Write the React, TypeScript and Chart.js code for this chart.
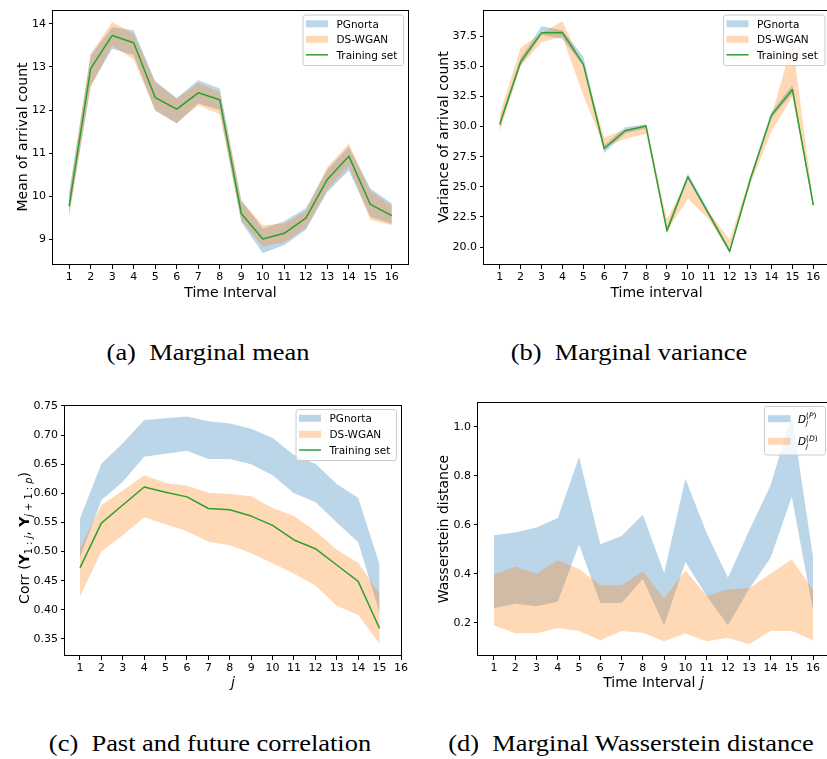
import React, { useEffect, useRef } from 'react';
import { Chart, registerables } from 'chart.js';

Chart.register(...registerables);

const FONT = "'DejaVu Sans'";
const PG_FILL = 'rgba(31,119,180,0.3)';
const DS_FILL = 'rgba(255,127,14,0.3)';
const TRAIN_COLOR = '#2ca02c';

// ---------- shared ticks ----------
const intervals = [1, 2, 3, 4, 5, 6, 7, 8, 9, 10, 11, 12, 13, 14, 15, 16];
const xTickLabels = ['1', '2', '3', '4', '5', '6', '7', '8', '9', '10', '11', '12', '13', '14', '15', '16'];

// ---------- (a) marginal mean ----------
const meanTraining = [9.77, 12.96, 13.73, 13.56, 12.29, 12.02, 12.40, 12.24, 9.60, 9.01, 9.14, 9.49, 10.39, 10.93, 9.81, 9.55];
const meanPgUpper = [10.10, 13.27, 13.92, 13.85, 12.67, 12.28, 12.69, 12.50, 9.91, 9.25, 9.42, 9.72, 10.62, 11.15, 10.18, 9.83];
const meanPgLower = [9.55, 12.57, 13.42, 13.27, 11.99, 11.69, 12.15, 12.00, 9.40, 8.68, 8.87, 9.22, 10.10, 10.60, 9.52, 9.36];
const meanDsUpper = [10.05, 13.30, 14.04, 13.77, 12.65, 12.26, 12.63, 12.42, 9.90, 9.33, 9.37, 9.66, 10.68, 11.22, 10.12, 9.78];
const meanDsLower = [9.58, 12.52, 13.50, 13.17, 11.99, 11.70, 12.11, 11.90, 9.43, 8.83, 8.93, 9.25, 10.15, 10.70, 9.45, 9.33];
const meanYTicks = ['9', '10', '11', '12', '13', '14'];

// ---------- (b) marginal variance ----------
const varTraining = [30.17, 35.37, 37.78, 37.80, 35.18, 28.18, 29.65, 30.04, 21.35, 25.83, 22.75, 19.64, 25.70, 30.95, 33.08, 23.48];
const varPgUpper = [30.50, 35.70, 38.33, 38.00, 35.80, 28.45, 29.95, 30.20, 21.65, 26.10, 23.00, 19.85, 25.95, 31.25, 33.45, 23.65];
const varPgLower = [29.95, 35.05, 37.60, 37.30, 35.00, 27.80, 29.45, 29.85, 21.10, 25.60, 22.55, 19.50, 25.45, 30.70, 32.75, 23.30];
const varDsUpper = [31.00, 36.55, 37.75, 38.74, 35.00, 29.10, 29.75, 30.10, 22.30, 25.60, 22.90, 20.60, 25.90, 30.90, 37.00, 23.75];
const varDsLower = [29.60, 35.00, 37.00, 37.45, 32.60, 28.30, 29.00, 29.40, 21.30, 24.00, 22.30, 19.60, 25.25, 29.60, 32.50, 23.30];
const varYTicks = ['20.0', '22.5', '25.0', '27.5', '30.0', '32.5', '35.0', '37.5'];

// ---------- (c) past / future correlation ----------
const lagJ = [1, 2, 3, 4, 5, 6, 7, 8, 9, 10, 11, 12, 13, 14, 15];
const corrTraining = [0.472, 0.549, 0.580, 0.611, 0.602, 0.594, 0.574, 0.572, 0.561, 0.545, 0.520, 0.505, 0.477, 0.449, 0.368];
const corrPgUpper = [0.557, 0.651, 0.686, 0.726, 0.729, 0.732, 0.724, 0.720, 0.711, 0.695, 0.666, 0.651, 0.616, 0.592, 0.478];
const corrPgLower = [0.490, 0.588, 0.620, 0.663, 0.668, 0.673, 0.659, 0.659, 0.650, 0.631, 0.600, 0.585, 0.550, 0.516, 0.395];
const corrDsUpper = [0.505, 0.580, 0.605, 0.631, 0.618, 0.613, 0.601, 0.599, 0.595, 0.575, 0.561, 0.535, 0.503, 0.481, 0.427];
const corrDsLower = [0.423, 0.500, 0.528, 0.559, 0.547, 0.535, 0.517, 0.511, 0.497, 0.480, 0.462, 0.442, 0.407, 0.391, 0.342];
const corrYTicks = ['0.35', '0.40', '0.45', '0.50', '0.55', '0.60', '0.65', '0.70', '0.75'];

// ---------- (d) marginal Wasserstein distance ----------
const wdPgUpper = [0.558, 0.569, 0.590, 0.629, 0.878, 0.521, 0.555, 0.642, 0.404, 0.789, 0.567, 0.385, 0.578, 0.761, 1.050, 0.469];
const wdPgLower = [0.260, 0.279, 0.268, 0.287, 0.520, 0.282, 0.282, 0.380, 0.190, 0.449, 0.310, 0.190, 0.340, 0.465, 0.715, 0.250];
const wdDsUpper = [0.397, 0.431, 0.401, 0.456, 0.420, 0.354, 0.354, 0.411, 0.300, 0.414, 0.310, 0.338, 0.342, 0.401, 0.460, 0.335];
const wdDsLower = [0.190, 0.158, 0.158, 0.180, 0.167, 0.130, 0.167, 0.160, 0.125, 0.157, 0.125, 0.140, 0.113, 0.167, 0.167, 0.130];
const wdYTicks = ['0.2', '0.4', '0.6', '0.8', '1.0'];

// ---------- rich text helpers ----------
type Seg = { t: string; size?: number; italic?: boolean; bold?: boolean; dy?: number; hold?: boolean };

function segFont(s: Seg) {
  return `${s.italic ? 'italic ' : ''}${s.bold ? 'bold ' : ''}${s.size ?? 14}px ${FONT}`;
}
function richWidth(ctx: CanvasRenderingContext2D, segs: Seg[]) {
  let w = 0;
  let held = 0;
  for (const s of segs) {
    ctx.font = segFont(s);
    const m = ctx.measureText(s.t).width;
    if (s.hold) held = m;
    else {
      w += Math.max(m, held);
      held = 0;
    }
  }
  return w;
}
function drawRich(ctx: CanvasRenderingContext2D, segs: Seg[], x: number, y: number, align: 'left' | 'center') {
  const w = richWidth(ctx, segs);
  let cx = align === 'center' ? x - w / 2 : x;
  let held = 0;
  ctx.textAlign = 'left';
  ctx.textBaseline = 'alphabetic';
  for (const s of segs) {
    ctx.font = segFont(s);
    const m = ctx.measureText(s.t).width;
    ctx.fillText(s.t, cx, y + (s.dy ?? 0));
    if (s.hold) held = m;
    else {
      cx += Math.max(m, held);
      held = 0;
    }
  }
}

type LegendItem = { kind: 'patch' | 'line'; color: string; label: Seg[] };
type LegendSpec = { x: number; y: number; w: number; h: number; rows: number[]; patchX: number; patchW: number; textX: number; items: LegendItem[] };

type Rect = { left: number; top: number; width: number; height: number };
type Area = { l: number; t: number; r: number; b: number };

interface PanelSpec {
  key: string;
  canvas: Rect;
  area: Area;
  xMin: number; xMax: number; yMin: number; yMax: number;
  xs: number[];
  xTicks: string[];
  yTicks: string[];
  bands: { upper: number[]; lower: number[]; color: string; order: number }[];
  line?: number[];
  legend: LegendSpec;
  xTitle: Seg[]; xTitleBaseline: number;
  yTitle: Seg[]; yTitleBaseline: number; yTitleCenter: number;
}

const pts = (xs: number[], ys: number[]) => ys.map((y, i) => ({ x: xs[i], y }));

const X_AXIS_H = 40;

function buildConfig(spec: PanelSpec): any {
  const { canvas, area } = spec;
  const yAxisW = area.l - canvas.left;
  const padding = {
    left: 0,
    top: area.t - canvas.top,
    right: canvas.left + canvas.width - area.r,
    bottom: canvas.top + canvas.height - area.b - X_AXIS_H,
  };
  const datasets: any[] = [];
  if (spec.line) {
    datasets.push({
      data: pts(spec.xs, spec.line),
      borderColor: TRAIN_COLOR,
      borderWidth: 1.5,
      borderJoinStyle: 'round',
      pointRadius: 0,
      fill: false,
      order: 0,
    });
  }
  for (const b of spec.bands) {
    datasets.push({
      data: pts(spec.xs, b.upper),
      borderWidth: 0,
      borderColor: 'rgba(0,0,0,0)',
      backgroundColor: b.color,
      pointRadius: 0,
      fill: '+1',
      order: b.order,
    });
    datasets.push({
      data: pts(spec.xs, b.lower),
      borderWidth: 0,
      borderColor: 'rgba(0,0,0,0)',
      backgroundColor: b.color,
      pointRadius: 0,
      fill: false,
      order: b.order,
    });
  }

  const tickFont = { family: FONT, size: 11 };
  const ox = canvas.left;
  const oy = canvas.top;

  const decor = {
    id: 'decor_' + spec.key,
    afterDraw(chart: any) {
      const ctx: CanvasRenderingContext2D = chart.ctx;
      const a = chart.chartArea;
      ctx.save();
      // spines
      ctx.strokeStyle = '#000';
      ctx.lineWidth = 1;
      ctx.strokeRect(Math.round(a.left) - 0.5, Math.round(a.top) + 0.5, Math.round(a.right) - Math.round(a.left) + 1, Math.round(a.bottom) - Math.round(a.top) - 1);
      // x title
      ctx.fillStyle = '#000';
      drawRich(ctx, spec.xTitle, (a.left + a.right) / 2, spec.xTitleBaseline - oy, 'center');
      // y title
      ctx.save();
      ctx.translate(spec.yTitleBaseline - ox, spec.yTitleCenter - oy);
      ctx.rotate(-Math.PI / 2);
      drawRich(ctx, spec.yTitle, 0, 0, 'center');
      ctx.restore();
      // legend
      const L = spec.legend;
      const lx = L.x - ox;
      const ly = L.y - oy;
      ctx.fillStyle = 'rgba(255,255,255,0.8)';
      ctx.strokeStyle = '#cccccc';
      ctx.lineWidth = 1;
      ctx.beginPath();
      (ctx as any).roundRect(lx + 0.5, ly + 0.5, L.w, L.h, 2.5);
      ctx.fill();
      ctx.stroke();
      L.items.forEach((it, i) => {
        const cy = ly + L.rows[i];
        if (it.kind === 'patch') {
          ctx.fillStyle = it.color;
          ctx.fillRect(lx + L.patchX, cy - 3.5, L.patchW, 7);
        } else {
          ctx.strokeStyle = it.color;
          ctx.lineWidth = 1.5;
          ctx.beginPath();
          ctx.moveTo(lx + L.patchX, cy);
          ctx.lineTo(lx + L.patchX + L.patchW, cy);
          ctx.stroke();
        }
        ctx.fillStyle = '#000';
        drawRich(ctx, it.label, lx + L.textX, cy + 3.8, 'left');
      });
      ctx.restore();
    },
  };

  return {
    type: 'line',
    data: { datasets },
    options: {
      responsive: false,
      animation: false,
      devicePixelRatio: 1,
      events: [],
      layout: { padding },
      plugins: { legend: { display: false }, tooltip: { enabled: false }, title: { display: false } },
      elements: { line: { tension: 0 } },
      scales: {
        x: {
          type: 'linear',
          position: 'bottom',
          min: spec.xMin,
          max: spec.xMax,
          afterFit: (s: any) => { s.height = X_AXIS_H; },
          afterBuildTicks: (s: any) => { s.ticks = spec.xTicks.map((t) => ({ value: Number(t) })); },
          ticks: {
            autoSkip: false,
            maxRotation: 0,
            minRotation: 0,
            padding: 2,
            color: '#000',
            font: tickFont,
            callback: (_v: any, i: number) => spec.xTicks[i],
          },
          grid: { display: true, drawOnChartArea: false, drawTicks: true, tickLength: 4, tickColor: '#000', tickWidth: 1 },
          border: { display: false },
        },
        y: {
          type: 'linear',
          position: 'left',
          min: spec.yMin,
          max: spec.yMax,
          afterFit: (s: any) => { s.width = yAxisW; },
          afterBuildTicks: (s: any) => { s.ticks = spec.yTicks.map((t) => ({ value: Number(t) })); },
          ticks: {
            autoSkip: false,
            padding: 3,
            color: '#000',
            font: tickFont,
            callback: (_v: any, i: number) => spec.yTicks[i],
          },
          grid: { display: true, drawOnChartArea: false, drawTicks: true, tickLength: 4, tickColor: '#000', tickWidth: 1 },
          border: { display: false },
        },
      },
    },
    plugins: [decor],
  };
}

const LEG = 10.5;
const trioLegend = (x: number, y: number, w: number, h: number, rows: number[]): LegendSpec => ({
  x, y, w, h, rows, patchX: 3.5, patchW: 22, textX: 34,
  items: [
    { kind: 'patch', color: PG_FILL, label: [{ t: 'PGnorta', size: LEG }] },
    { kind: 'patch', color: DS_FILL, label: [{ t: 'DS-WGAN', size: LEG }] },
    { kind: 'line', color: TRAIN_COLOR, label: [{ t: 'Training set', size: LEG }] },
  ],
});

const dLabel = (sup: string): Seg[] => [
  { t: 'D', size: 10.5, italic: true },
  { t: 'j', size: 7.5, italic: true, dy: 2.5, hold: true },
  { t: '(', size: 7.5, dy: -4.5 },
  { t: sup, size: 7.5, italic: true, dy: -4.5 },
  { t: ')', size: 7.5, dy: -4.5 },
];

const SUB = 9.8;
const panels: PanelSpec[] = [
  {
    key: 'a',
    canvas: { left: 0, top: 0, width: 414, height: 310 },
    area: { l: 53, t: 9, r: 408, b: 265 },
    xMin: 0.25, xMax: 16.75, yMin: 8.405, yMax: 14.33,
    xs: intervals, xTicks: xTickLabels, yTicks: meanYTicks,
    bands: [
      { upper: meanPgUpper, lower: meanPgLower, color: PG_FILL, order: 2 },
      { upper: meanDsUpper, lower: meanDsLower, color: DS_FILL, order: 1 },
    ],
    line: meanTraining,
    legend: trioLegend(302.5, 14.5, 100.5, 50.5, [9.3, 24.8, 40.3]),
    xTitle: [{ t: 'Time Interval' }], xTitleBaseline: 296.5,
    yTitle: [{ t: 'Mean of arrival count' }], yTitleBaseline: 26.5, yTitleCenter: 137,
  },
  {
    key: 'b',
    canvas: { left: 414, top: 0, width: 425, height: 310 },
    area: { l: 484, t: 9, r: 829, b: 265 },
    xMin: 0.25, xMax: 16.75, yMin: 18.51, yMax: 39.71,
    xs: intervals, xTicks: xTickLabels, yTicks: varYTicks,
    bands: [
      { upper: varPgUpper, lower: varPgLower, color: PG_FILL, order: 2 },
      { upper: varDsUpper, lower: varDsLower, color: DS_FILL, order: 1 },
    ],
    line: varTraining,
    legend: trioLegend(723, 14.5, 101.5, 50.5, [9.3, 24.8, 40.3]),
    xTitle: [{ t: 'Time interval' }], xTitleBaseline: 296.5,
    yTitle: [{ t: 'Variance of arrival count' }], yTitleBaseline: 448.3, yTitleCenter: 137,
  },
  {
    key: 'c',
    canvas: { left: 0, top: 390, width: 414, height: 310 },
    area: { l: 65, t: 405, r: 401, b: 656 },
    xMin: 0.3, xMax: 16, yMin: 0.3208, yMax: 0.7517,
    xs: lagJ, xTicks: xTickLabels, yTicks: corrYTicks,
    bands: [
      { upper: corrPgUpper, lower: corrPgLower, color: PG_FILL, order: 2 },
      { upper: corrDsUpper, lower: corrDsLower, color: DS_FILL, order: 1 },
    ],
    line: corrTraining,
    legend: trioLegend(295.5, 409, 100.5, 51, [9.3, 25.3, 41]),
    xTitle: [{ t: 'j', italic: true }], xTitleBaseline: 687,
    yTitle: [
      { t: 'Corr ' },
      { t: '(' },
      { t: 'Y', bold: true },
      { t: '1 : ', size: SUB, dy: 3 },
      { t: 'j', size: SUB, italic: true, dy: 3 },
      { t: ', ' },
      { t: 'Y', bold: true },
      { t: 'j', size: SUB, italic: true, dy: 3 },
      { t: ' + 1 : ', size: SUB, dy: 3 },
      { t: 'p', size: SUB, italic: true, dy: 3 },
      { t: ')' },
    ],
    yTitleBaseline: 28.5, yTitleCenter: 538,
  },
  {
    key: 'd',
    canvas: { left: 414, top: 390, width: 425, height: 310 },
    area: { l: 478, t: 402, r: 829, b: 656 },
    xMin: 0.25, xMax: 16.75, yMin: 0.0653, yMax: 1.102,
    xs: intervals, xTicks: xTickLabels, yTicks: wdYTicks,
    bands: [
      { upper: wdPgUpper, lower: wdPgLower, color: PG_FILL, order: 2 },
      { upper: wdDsUpper, lower: wdDsLower, color: DS_FILL, order: 1 },
    ],
    legend: {
      x: 764, y: 406, w: 61, h: 48.5, rows: [12.7, 35.3], patchX: 4, patchW: 22.5, textX: 34,
      items: [
        { kind: 'patch', color: PG_FILL, label: dLabel('P') },
        { kind: 'patch', color: DS_FILL, label: dLabel('D') },
      ],
    },
    xTitle: [{ t: 'Time Interval ' }, { t: 'j', italic: true }], xTitleBaseline: 686.5,
    yTitle: [{ t: 'Wasserstein distance' }], yTitleBaseline: 448.3, yTitleCenter: 529,
  },
];

const captions = [
  { text: '(a)\u2002Marginal mean', cx: 207.5, baseline: 361 },
  { text: '(b)\u2002Marginal variance', cx: 629, baseline: 361 },
  { text: '(c)\u2002Past and future correlation', cx: 209.5, baseline: 751.7 },
  { text: '(d)\u2002Marginal Wasserstein distance', cx: 631, baseline: 751.7 },
];

function Panel({ spec }: { spec: PanelSpec }) {
  const ref = useRef<HTMLCanvasElement | null>(null);
  useEffect(() => {
    if (!ref.current) return;
    const chart = new Chart(ref.current, buildConfig(spec));
    return () => chart.destroy();
  }, [spec]);
  const c = spec.canvas;
  return (
    <canvas
      ref={ref}
      width={c.width}
      height={c.height}
      style={{ position: 'absolute', left: c.left, top: c.top, width: c.width, height: c.height }}
    />
  );
}

export default function App() {
  return (
    <div style={{ position: 'absolute', left: 0, top: 0, width: 827, height: 759, overflow: 'hidden', background: '#fff' }}>
      {panels.map((p) => (
        <Panel key={p.key} spec={p} />
      ))}
      {captions.map((c) => (
        <div
          key={c.text}
          style={{
            position: 'absolute',
            left: c.cx - 250,
            width: 500,
            top: c.baseline - 19.7,
            fontFamily: "'Liberation Serif'",
            fontSize: 23.5,
            lineHeight: '23.5px',
            textAlign: 'center',
            whiteSpace: 'nowrap',
            color: '#000',
            transform: 'scaleX(1.125)',
          }}
        >
          {c.text}
        </div>
      ))}
    </div>
  );
}
